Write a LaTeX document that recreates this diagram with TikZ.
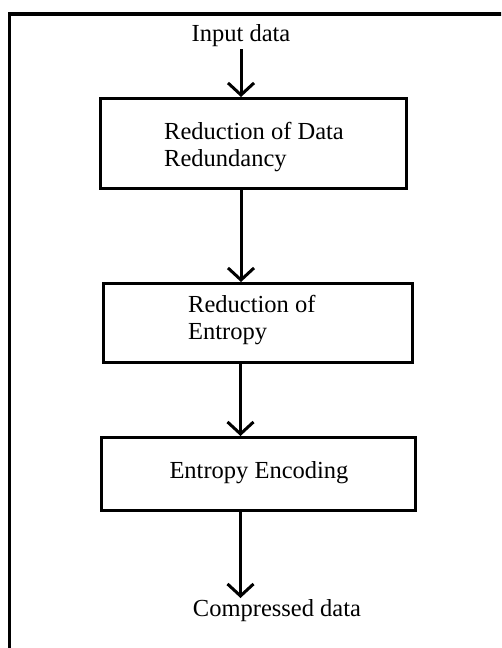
\documentclass[tikz,border=0pt]{standalone}
\usepackage{fontspec}
\setmainfont{Liberation Serif}
\usetikzlibrary{arrows.meta}

\begin{document}
\begin{tikzpicture}[x=1pt,y=-1pt]
\tikzset{stage/.style = {shape=rectangle,draw,line width=3pt,inner sep=0pt}}
\tikzset{label/.style = {inner sep=0pt,align=left,font=\fontsize{24.5}{27}\selectfont}}
\tikzset{flow/.style = {line width=3pt,-{Straight Barb[length=12pt,width=26pt]}}}
\useasboundingbox (0,0) rectangle (501,648);
\clip (0,0) rectangle (501,648);
% frame
\draw[line width=3.5pt] (9.5,14) rectangle (540,690);
% boxes
\node[stage,minimum width=306pt,minimum height=90pt] (redund) at (253.5,143.5) {};
\node[stage,minimum width=309pt,minimum height=79pt] (entropy) at (258,323) {};
\node[stage,minimum width=314pt,minimum height=73pt] (encode) at (258.5,474) {};
% texts
\node[label,inner sep=2pt] (in) at (241,36) {Input data};
\node[label,anchor=west] (redundtxt) at (164,147) {Reduction of Data\\Redundancy};
\node[label,anchor=west] (entropytxt) at (188,320) {Reduction of\\Entropy};
\node[label] (encodetxt) at (259,473) {Entropy Encoding};
\node[label] (out) at (277,611) {Compressed data};
\coordinate (outtip) at (240.5,598);
% edges
\draw[flow] (in.south) -- (in |- redund.north);
\draw[flow] (redund.south -| in) -- (in |- entropy.north);
\draw[flow] (entropy.south -| outtip) -- (outtip |- encode.north);
\draw[flow] (encode.south -| outtip) -- (outtip);
\end{tikzpicture}
\end{document}
